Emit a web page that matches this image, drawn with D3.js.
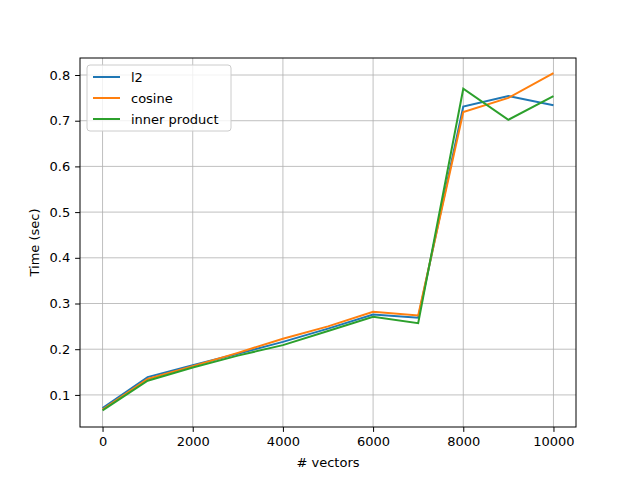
<!DOCTYPE html>
<html><head><meta charset="utf-8">
<script src="https://cdn.jsdelivr.net/npm/d3@7"></script>
<style>body{margin:0;background:#fff}text{font-family:"DejaVu Sans",sans-serif}</style>
</head><body>
<script>
const vectors = [0,1000,2000,3000,4000,5000,6000,7000,8000,9000,10000];
const l2      = [0.071,0.139,0.165,0.190,0.216,0.245,0.276,0.269,0.731,0.754,0.734];
const cosine  = [0.068,0.135,0.163,0.192,0.223,0.250,0.282,0.274,0.719,0.750,0.804];
const inner   = [0.066,0.131,0.160,0.186,0.209,0.240,0.271,0.257,0.770,0.702,0.754];
const names = ["l2","cosine","inner product"];
const colors = ["#1f77b4","#ff7f0e","#2ca02c"];
const xTicks = [0,2000,4000,6000,8000,10000];
const yTicks = [0.1,0.2,0.3,0.4,0.5,0.6,0.7,0.8];

const svg = d3.select("body").append("svg").attr("width",640).attr("height",480);
const L=80,R=576,T=58,B=427;
const x = d3.scaleLinear().domain([-500,10500]).range([L,R]);
const y = d3.scaleLinear().domain([0.0298,0.8372]).range([B,T]);

// grid
svg.append("g").selectAll("line").data(xTicks).join("line")
  .attr("x1",d=>x(d)).attr("x2",d=>x(d)).attr("y1",T).attr("y2",B)
  .attr("stroke","#b0b0b0").attr("stroke-width",0.8);
svg.append("g").selectAll("line").data(yTicks).join("line")
  .attr("y1",d=>y(d)).attr("y2",d=>y(d)).attr("x1",L).attr("x2",R)
  .attr("stroke","#b0b0b0").attr("stroke-width",0.8);

const xa = svg.append("g").attr("transform",`translate(0,${B})`)
  .call(d3.axisBottom(x).tickValues(xTicks).tickFormat(d3.format("d")).tickSize(4.9).tickPadding(4.9));
const ya = svg.append("g").attr("transform",`translate(${L},0)`)
  .call(d3.axisLeft(y).tickValues(yTicks).tickFormat(d3.format(".1f")).tickSize(4.9).tickPadding(4.9));
[xa,ya].forEach(a=>{a.select(".domain").remove();a.selectAll("text").attr("font-size",13).attr("fill","#000");});

[l2,cosine,inner].forEach((s,i)=>{
  svg.append("path").datum(s).attr("fill","none").attr("stroke",colors[i]).attr("stroke-width",2)
    .attr("d",d3.line().x((d,j)=>x(vectors[j])).y(d=>y(d)));
});

svg.append("rect").attr("x",L).attr("y",T).attr("width",R-L).attr("height",B-T)
  .attr("fill","none").attr("stroke","#000").attr("stroke-width",1);

svg.append("text").attr("x",(L+R)/2).attr("y",467).attr("text-anchor","middle").attr("font-size",13).text("# vectors");
svg.append("text").attr("transform",`translate(39,${(T+B)/2}) rotate(-90)`).attr("text-anchor","middle").attr("font-size",13).text("Time (sec)");

// legend
const lg = svg.append("g").attr("transform",`translate(87,65)`);
lg.append("rect").attr("width",144).attr("height",66).attr("rx",3).attr("fill","#fff").attr("fill-opacity",0.8).attr("stroke","#ccc");
names.forEach((n,i)=>{
  const yy = 12+i*21;
  lg.append("line").attr("x1",6).attr("x2",33).attr("y1",yy).attr("y2",yy).attr("stroke",colors[i]).attr("stroke-width",2);
  lg.append("text").attr("x",44).attr("y",yy+5).attr("font-size",13).text(n);
});
</script>
</body></html>
